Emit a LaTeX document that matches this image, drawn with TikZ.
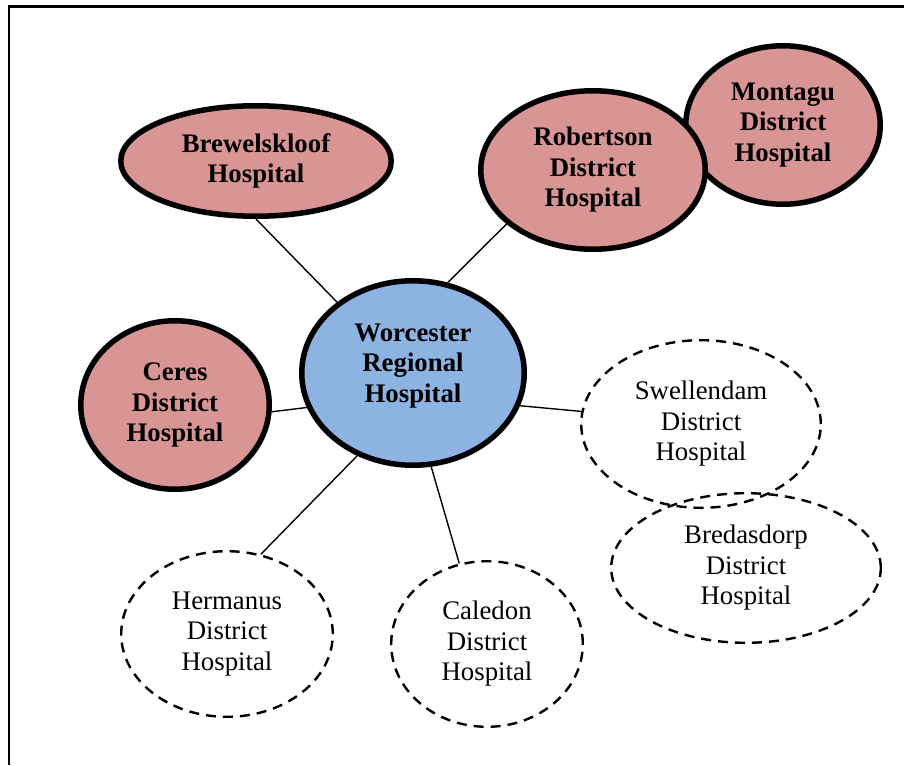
\documentclass[tikz,border=0pt]{standalone}
\usepackage{fontspec}
\setmainfont{Liberation Serif}
\usetikzlibrary{shapes.geometric}
\definecolor{hospred}{HTML}{D99594}
\definecolor{hospblue}{HTML}{8DB3E2}
\begin{document}
\begin{tikzpicture}[x=1pt,y=-1pt,
    hosp/.style={ellipse, draw, line width=5.5pt, fill=hospred, align=center, inner sep=0pt,
      font=\fontsize{26.8}{30.5}\selectfont\bfseries},
    future/.style={ellipse, draw, line width=2.4pt, dash pattern=on 10pt off 7pt, align=center,
      inner sep=0pt, font=\fontsize{26.8}{30.5}\selectfont},
    link/.style={line width=1.4pt}]
        \useasboundingbox (0,0) rectangle (904,765);
        \draw[line width=2.5pt] (9,765) -- (9,6.5) -- (904,6.5);
        % hospitals in the network
        \node[hosp, minimum width=194.5pt, minimum height=158.5pt] (mon) at (783,125) {Montagu\\District\\Hospital};
        \node[hosp, minimum width=224.5pt, minimum height=158.5pt] (rob) at (593,170) {Robertson\\District\\Hospital};
        \node[hosp, minimum width=270.5pt, minimum height=110.5pt] (brew) at (256,161) {Brewelskloof\\Hospital};
        \node[hosp, minimum width=188.5pt, minimum height=168.5pt] (ceres) at (175,405) {Ceres\\District\\Hospital};
        \node[hosp, fill=hospblue, minimum width=222.5pt, minimum height=184.5pt] (wor) at (413,373) {};
        \node[align=center, font=\fontsize{26.8}{30.5}\selectfont\bfseries] (wortext) at ([yshift=7pt]wor.center) {Worcester\\Regional\\Hospital};
        % not yet linked
        \node[future, minimum width=239.6pt, minimum height=167.6pt] (swell) at (701,424) {Swellendam\\District\\Hospital};
        \node[future, minimum width=269.6pt, minimum height=149.6pt] (bred) at (746,568) {Bredasdorp\\District\\Hospital};
        \node[future, minimum width=211.6pt, minimum height=165.6pt] (herm) at (227,634) {Hermanus\\District\\Hospital};
        \node[future, minimum width=191.6pt, minimum height=165.6pt] (cal) at (487,644) {Caledon\\District\\Hospital};
        \draw[link] (brew.270) -- (wor.137);
        \draw[link] (rob.212) -- (wor.69);
        \draw[link] (ceres.356) -- (wor.198);
        \draw[link] (wor.343) -- (swell.174);
        \draw[link] (wor.236) -- (herm.67);
        \draw[link] (wor.281) -- (cal.109);
\end{tikzpicture}
\end{document}
